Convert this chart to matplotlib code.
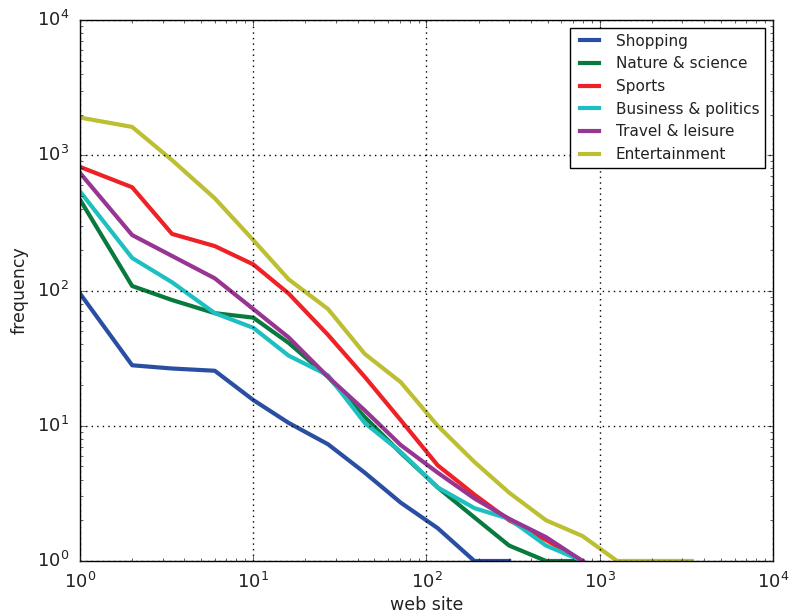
import matplotlib
matplotlib.use('Agg')
import matplotlib.pyplot as plt

# rank bins of web sites (log spaced)
ranks = [1, 2, 3.4, 6, 10, 16, 27, 44, 71, 116, 189, 300, 490, 795, 1260, 2050, 3400]

shopping = [95, 28, 26.5, 25.5, 15.5, 10.5, 7.3, 4.5, 2.7, 1.75, 1, 1]
nature = [470, 108, 85, 68, 63, 41, 23, 11.6, 6.3, 3.5, 2.1, 1.3, 1, 1]
sports = [820, 580, 262, 213, 156, 95, 47, 23, 11, 5.1, 3.1, 2.0, 1.43, 1]
business = [540, 174, 115, 68, 53, 33, 23.6, 10.5, 6.4, 3.5, 2.46, 2.05, 1.3, 1]
travel = [740, 257, 180, 123, 73, 45, 23, 13, 7.2, 4.5, 2.9, 2.05, 1.5, 1]
entertainment = [1900, 1620, 920, 480, 236, 121, 73, 34, 21, 10, 5.4, 3.2, 2.0, 1.53, 1, 1, 1]

labels = ['Shopping', 'Nature & science', 'Sports', 'Business & politics',
          'Travel & leisure', 'Entertainment']
series = [shopping, nature, sports, business, travel, entertainment]
colors = ['#2a4fa2', '#087a3e', '#ee2127', '#1dbfc0', '#973593', '#bdbf33']

plt.style.use('classic')
plt.rcParams['text.color'] = '#222222'
plt.rcParams['xtick.color'] = '#222222'
plt.rcParams['ytick.color'] = '#222222'
plt.rcParams['axes.labelcolor'] = '#222222'

fig = plt.figure(figsize=(7.89, 6.16), dpi=100, facecolor='white')
ax = fig.add_axes([0.1014, 0.0893, 0.8783, 0.8782])

for vals, lab, col in zip(series, labels, colors):
    ax.plot(ranks[:len(vals)], vals, color=col, lw=3, label=lab)

ax.set_xscale('log')
ax.set_yscale('log')
ax.set_xlim(1, 1e4)
ax.set_ylim(1, 1e4)
ax.grid(True, which='major', color='k', linestyle=':', linewidth=1)
ax.tick_params(which='major', labelsize=13, pad=8)
ax.set_xlabel('web site', fontsize=12.5, labelpad=3)
ax.set_ylabel('frequency', fontsize=12.5, labelpad=6)

leg = ax.legend(loc='upper right', fontsize=11, handlelength=1.8)
leg.get_frame().set_linewidth(1)

fig.savefig('out.png', dpi=100, facecolor='white')
